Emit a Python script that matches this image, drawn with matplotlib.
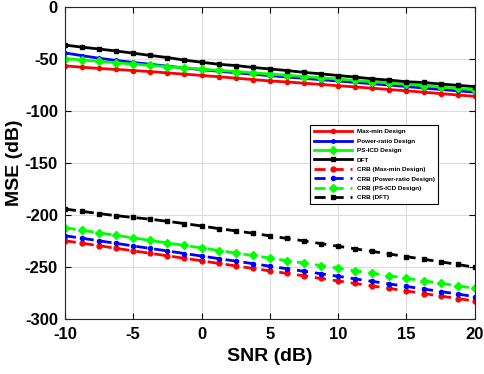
import matplotlib
matplotlib.use("Agg")
import matplotlib.pyplot as plt

plt.rcParams['font.family'] = ['Liberation Sans', 'DejaVu Sans']
plt.rcParams['font.weight'] = 'bold'
plt.rcParams['axes.unicode_minus'] = False

# SNR points (dB)
snr = [-10, -8.75, -7.5, -6.25, -5, -3.75, -2.5, -1.25, 0, 1.25, 2.5, 3.75, 5,
       6.25, 7.5, 8.75, 10, 11.25, 12.5, 13.75, 15, 16.25, 17.5, 18.75, 20]

# MSE of the designs (dB)
mse_maxmin = [-56.5, -57.8, -59, -60, -61, -62, -63.3, -64.5, -65.7, -67, -68.3, -69.7, -71,
              -72, -73.2, -74.4, -75.6, -76.8, -78, -79.3, -80.5, -81.8, -83.2, -84.5, -85.8]
mse_power = [-44, -46.7, -49.2, -51.3, -53.2, -55, -56.8, -58.5, -60.2, -61.7, -63.1, -64.5, -65.9,
             -67.2, -68.5, -69.8, -71.1, -72.4, -73.7, -75, -76.4, -77.8, -79.2, -80.5, -81.8]
mse_psicd = [-49.5, -50.8, -52.2, -53.5, -54.8, -56, -57.2, -58.4, -59.6, -60.8, -62, -63.2, -64.4,
             -65.6, -66.8, -68, -69.2, -70.5, -71.8, -73, -74.3, -75.6, -76.9, -78.2, -79.5]
mse_dft = [-36.5, -38.5, -40.3, -42.2, -44.3, -46.5, -48.5, -51, -53, -55, -56.2, -58, -59.5,
           -61, -62.8, -64.2, -65.8, -67.3, -69, -70.2, -71.8, -72.5, -74, -75.2, -76.5]

# CRB (dB)
crb_maxmin = [-224.7, -227.1, -229.5, -232, -234.4, -236.8, -239.2, -241.6, -244, -246.5, -248.9,
              -251.3, -253.7, -256.1, -258.5, -261, -263.4, -265.8, -268.2, -270.6, -273, -275.5,
              -277.9, -280.3, -282.7]
crb_power = [-219.9, -222.3, -224.8, -227.2, -229.7, -232.1, -234.5, -237, -239.4, -241.9, -244.3,
             -246.7, -249.2, -251.6, -254.1, -256.5, -258.9, -261.4, -263.8, -266.3, -268.7,
             -271.1, -273.6, -276, -278.5]
crb_psicd = [-212.2, -214.6, -217.1, -219.5, -221.9, -224.4, -226.8, -229.2, -231.6, -234.1, -236.5,
             -238.9, -241.4, -243.8, -246.2, -248.6, -251.1, -253.5, -255.9, -258.4, -260.8,
             -263.2, -265.6, -268.1, -270.5]
crb_dft = [-194.2, -196.4, -198.6, -200.6, -202.3, -204, -206, -208.2, -210.5, -213, -215.2,
           -217.5, -220, -222.5, -224.8, -227.5, -230, -232.5, -235, -237.5, -240, -242.5,
           -245, -247.5, -250.3]

fig = plt.figure(figsize=(4.84, 3.74), dpi=100)
ax = fig.add_axes([0.134, 0.147, 0.847, 0.834])

green = '#00ff00'
ax.plot(snr, mse_maxmin, '-', color='red', marker='o', ms=3, lw=2, label='Max-min Design')
ax.plot(snr, mse_power, '-', color='blue', marker='o', ms=2.5, lw=2, label='Power-ratio Design')
ax.plot(snr, mse_psicd, '-', color=green, marker='D', ms=4, lw=2, label='PS-ICD Design')
ax.plot(snr, mse_dft, '-', color='black', marker='s', ms=3.2, lw=2, label='DFT')

dash = (0, (4, 2.5))
ax.plot(snr, crb_maxmin, color='red', ls=dash, marker='o', ms=3.5, lw=2, label='CRB (Max-min Design)')
ax.plot(snr, crb_power, color='blue', ls=dash, marker='o', ms=3, lw=2, label='CRB (Power-ratio Design)')
ax.plot(snr, crb_psicd, color=green, ls=dash, marker='D', ms=4.5, lw=2, label='CRB (PS-ICD Design)')
ax.plot(snr, crb_dft, color='black', ls=dash, marker='s', ms=3.5, lw=2, label='CRB (DFT)')

ax.set_xlim(-10, 20)
ax.set_ylim(-300, 0)
ax.set_xticks([-10, -5, 0, 5, 10, 15, 20])
ax.set_yticks([-300, -250, -200, -150, -100, -50, 0])
ax.tick_params(direction='in', labelsize=12, length=4, top=True, right=True)
ax.tick_params(axis='x', pad=6)
ax.tick_params(axis='y', pad=5)
for lab in ax.get_xticklabels() + ax.get_yticklabels():
    lab.set_fontweight('bold')
ax.grid(True, color='#dcdcdc', lw=0.8)
for s in ax.spines.values():
    s.set_linewidth(0.8)
    s.set_color('#262626')

ax.set_xlabel('SNR (dB)', fontsize=14, fontweight='bold', labelpad=4)
ax.set_ylabel('MSE (dB)', fontsize=14, fontweight='bold', labelpad=1)

leg = ax.legend(loc='upper left', bbox_to_anchor=(0.59, 0.632), prop={'weight': 'bold', 'size': 4.6},
                handlelength=6, handletextpad=0.7, labelspacing=0.62, borderpad=0.6,
                fancybox=False, edgecolor='black', framealpha=1, numpoints=1)
leg.get_frame().set_linewidth(0.8)

fig.savefig('out.png', dpi=100)
